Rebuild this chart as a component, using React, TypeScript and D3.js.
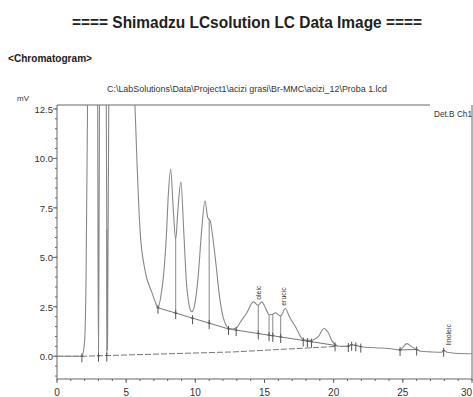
import * as d3 from "d3";

const W = 473;
const H = 397;

// chromatogram trace (min, mV); values above 12.7 are off-scale and get clipped
const traceT = [0, 1.0, 1.8, 2.0, 2.1, 2.2, 2.3, 2.6, 2.9, 2.97, 3.0, 3.03, 3.08, 3.3, 3.55, 3.62, 3.65, 3.68, 3.75, 4.2, 5.0, 5.5, 5.64, 5.8, 6.0, 6.36, 6.87, 7.1, 7.3, 7.5, 7.69, 7.9, 8.05, 8.22, 8.4, 8.58, 8.75, 8.96, 9.15, 9.35, 9.55, 9.74, 9.95, 10.2, 10.45, 10.7, 10.9, 11.06, 11.3, 11.5, 11.75, 12.0, 12.2, 12.4, 12.7, 13.0, 13.2, 13.7, 14.2, 14.55, 14.8, 15.1, 15.33, 15.6, 15.8, 16.0, 16.17, 16.5, 16.8, 17.3, 17.7, 17.9, 18.2, 18.5, 18.9, 19.3, 19.6, 19.9, 20.1, 20.5, 21.0, 21.3, 21.6, 22.0, 23.0, 24.0, 24.8, 25.0, 25.3, 25.6, 26.0, 26.3, 27.0, 27.8, 28.0, 28.2, 29.0, 30];
const traceV = [0, 0, 0, 0.8, 4, 12, 30, 60, 25, 4, 0.3, 4, 15, 60, 15, 3, 0.3, 4, 14, 80, 50, 16, 12.6, 9.5, 6.4, 4.35, 3.2, 2.75, 2.45, 3.0, 4.0, 6.0, 8.2, 9.45, 7.5, 5.9, 7.5, 8.82, 6.5, 3.8, 2.6, 2.25, 2.6, 4.0, 6.3, 7.86, 7.0, 6.88, 5.8, 4.6, 3.0, 2.0, 1.6, 1.42, 1.38, 1.45, 1.67, 2.17, 2.75, 2.58, 2.75, 2.4, 2.1, 2.12, 2.2, 2.1, 2.04, 2.41, 2.0, 1.42, 0.9, 0.82, 0.8, 0.82, 1.0, 1.4, 1.2, 0.75, 0.6, 0.5, 0.5, 0.58, 0.55, 0.48, 0.43, 0.39, 0.32, 0.45, 0.64, 0.5, 0.34, 0.25, 0.22, 0.2, 0.3, 0.2, 0.14, 0.13];

// integration baselines
const baseAT = [0, 1.8, 12.8, 20.3];
const baseAV = [0, 0, 0.22, 0.5];
const baseBT = [7.3, 12.4, 20.1];
const baseBV = [2.45, 1.38, 0.55];
const baseCT = [24.8, 26.0];
const baseCV = [0.32, 0.34];

// peak start/end marks and drop lines
const marksA = [1.8, 3.0, 3.6];
const marksB = [7.3, 8.58, 9.8, 11.0, 12.4, 12.95, 14.55, 15.33, 15.6, 16.17, 17.8, 18.1, 18.4, 20.1];
const marksTrace = [21.06, 21.3, 21.6, 21.96, 27.95];
const marksC = [24.8, 26.0];
const dropsA = [3.0, 3.6];
const dropsB = [8.58, 11.0, 14.55, 15.33, 15.6, 16.17];

const peakNames = ["oleic", "erucic", "linoleic"];
const peakT = [14.6, 16.35, 28.3];
const peakV = [2.85, 2.55, 0.55];

const yTicks = [0, 2.5, 5, 7.5, 10, 12.5];
const xTicks = [0, 5, 10, 15, 20, 25, 30];

export default function App() {
  const left = 57;
  const right = 472;
  const top = 105;
  const bottom = 379;
  const x = d3.scaleLinear().domain([0, 30]).range([left, right]);
  const y = d3.scaleLinear().domain([-1.15, 12.7]).range([bottom, top]);

  const traceAt = d3.scaleLinear().domain(traceT).range(traceV);
  const baseA = d3.scaleLinear().domain(baseAT).range(baseAV);
  const baseB = d3.scaleLinear().domain(baseBT).range(baseBV);
  const baseC = d3.scaleLinear().domain(baseCT).range(baseCV);

  const line = d3
    .line<[number, number]>()
    .x((d) => x(d[0]))
    .y((d) => y(d[1]))
    .curve(d3.curveMonotoneX);
  const straight = d3
    .line<[number, number]>()
    .x((d) => x(d[0]))
    .y((d) => y(d[1]));

  const tracePts = traceT.map((t, i) => [t, traceV[i]] as [number, number]);
  const basePath = (ts: number[], vs: number[]) =>
    straight(ts.map((t, i) => [t, vs[i]] as [number, number])) || "";

  const minorY = d3.range(-1, 12.51, 0.5);
  const minorX = d3.range(0, 30.01, 1);

  const mark = (t: number, v: number, key: string) => {
    const cx = x(t);
    const cy = y(v);
    return (
      <g key={key} stroke="#555" strokeWidth={1}>
        <line x1={cx} x2={cx} y1={cy - 3} y2={cy + 6} />
        <line x1={cx - 1.5} x2={cx + 1.5} y1={cy} y2={cy} />
      </g>
    );
  };

  const font = "'Liberation Sans', Arial, sans-serif";

  return (
    <svg
      width={W}
      height={H}
      style={{ position: "absolute", left: 0, top: 0, background: "#fff" }}
      fontFamily={font}
    >
      <defs>
        <clipPath id="plot">
          <rect x={left} y={top} width={right - left} height={bottom - top} />
        </clipPath>
      </defs>

      <text x={247} y={28} textAnchor="middle" fontSize={17} fontWeight="bold" fill="#222"
        textLength={350} lengthAdjust="spacingAndGlyphs">
        ==== Shimadzu LCsolution LC Data Image ====
      </text>
      <text x={8} y={62} fontSize={10} fontWeight="bold" fill="#222" textLength={84} lengthAdjust="spacingAndGlyphs">
        {"<Chromatogram>"}
      </text>
      <text x={107} y={92} fontSize={8.5} fill="#333" textLength={280} lengthAdjust="spacingAndGlyphs">
        C:\LabSolutions\Data\Project1\acizi grasi\Br-MMC\acizi_12\Proba 1.lcd
      </text>
      <text x={17} y={101} fontSize={8} fill="#333">mV</text>
      <text x={434} y={117} fontSize={8.5} fill="#333" textLength={38} lengthAdjust="spacingAndGlyphs">Det.B Ch1</text>

      {/* frame */}
      <g stroke="#666" strokeWidth={1} fill="none">
        <line x1={left} x2={left} y1={top} y2={bottom} />
        <line x1={left} x2={right} y1={bottom} y2={bottom} />
        <line x1={left} x2={430} y1={top} y2={top} />
        <line x1={right} x2={right} y1={top} y2={bottom} />
      </g>

      {/* ticks */}
      <g stroke="#666">
        {minorY.map((v) => (
          <line key={"my" + v} x1={left - 2} x2={left} y1={y(v)} y2={y(v)} />
        ))}
        {yTicks.map((v) => (
          <line key={"y" + v} x1={left - 4} x2={left} y1={y(v)} y2={y(v)} />
        ))}
        {minorX.map((t) => (
          <line key={"mx" + t} x1={x(t)} x2={x(t)} y1={bottom} y2={bottom + 2} />
        ))}
        {xTicks.map((t) => (
          <line key={"x" + t} x1={x(t)} x2={x(t)} y1={bottom} y2={bottom + 4} />
        ))}
      </g>
      {yTicks.map((v) => (
        <text key={"yl" + v} x={left - 4} y={y(v) + 4} textAnchor="end" fontSize={9.5} fill="#333">
          {v.toFixed(1)}
        </text>
      ))}
      {xTicks.map((t, i) => {
        const last = i === xTicks.length - 1;
        return (
          <text
            key={"xl" + t}
            x={last ? W - 1 : x(t)}
            y={396}
            textAnchor={last ? "end" : "middle"}
            fontSize={10}
            fill="#333"
          >
            {t}
          </text>
        );
      })}

      <g clipPath="url(#plot)" fill="none">
        <path d={basePath(baseAT, baseAV)} stroke="#777" strokeWidth={1} strokeDasharray="6,2" />
        <path d={basePath(baseBT, baseBV)} stroke="#777" strokeWidth={1} />
        <path d={basePath(baseCT, baseCV)} stroke="#777" strokeWidth={1} />
        <path d={line(tracePts) || ""} stroke="#888" strokeWidth={1.1} />
        {dropsA.map((t) => (
          <line key={"da" + t} x1={x(t)} x2={x(t)} y1={y(traceAt(t))} y2={y(baseA(t))} stroke="#888" />
        ))}
        {dropsB.map((t) => (
          <line key={"db" + t} x1={x(t)} x2={x(t)} y1={y(traceAt(t))} y2={y(baseB(t))} stroke="#888" />
        ))}
      </g>

      {marksA.map((t) => mark(t, baseA(t), "ma" + t))}
      {marksB.map((t) => mark(t, baseB(t), "mb" + t))}
      {marksC.map((t) => mark(t, baseC(t), "mc" + t))}
      {marksTrace.map((t) => mark(t, traceAt(t), "mt" + t))}

      {peakNames.map((n, i) => (
        <text
          key={n}
          transform={`translate(${x(peakT[i]) + 2.5},${y(peakV[i])}) rotate(-90)`}
          fontSize={7}
          fill="#333"
        >
          {n}
        </text>
      ))}
    </svg>
  );
}
